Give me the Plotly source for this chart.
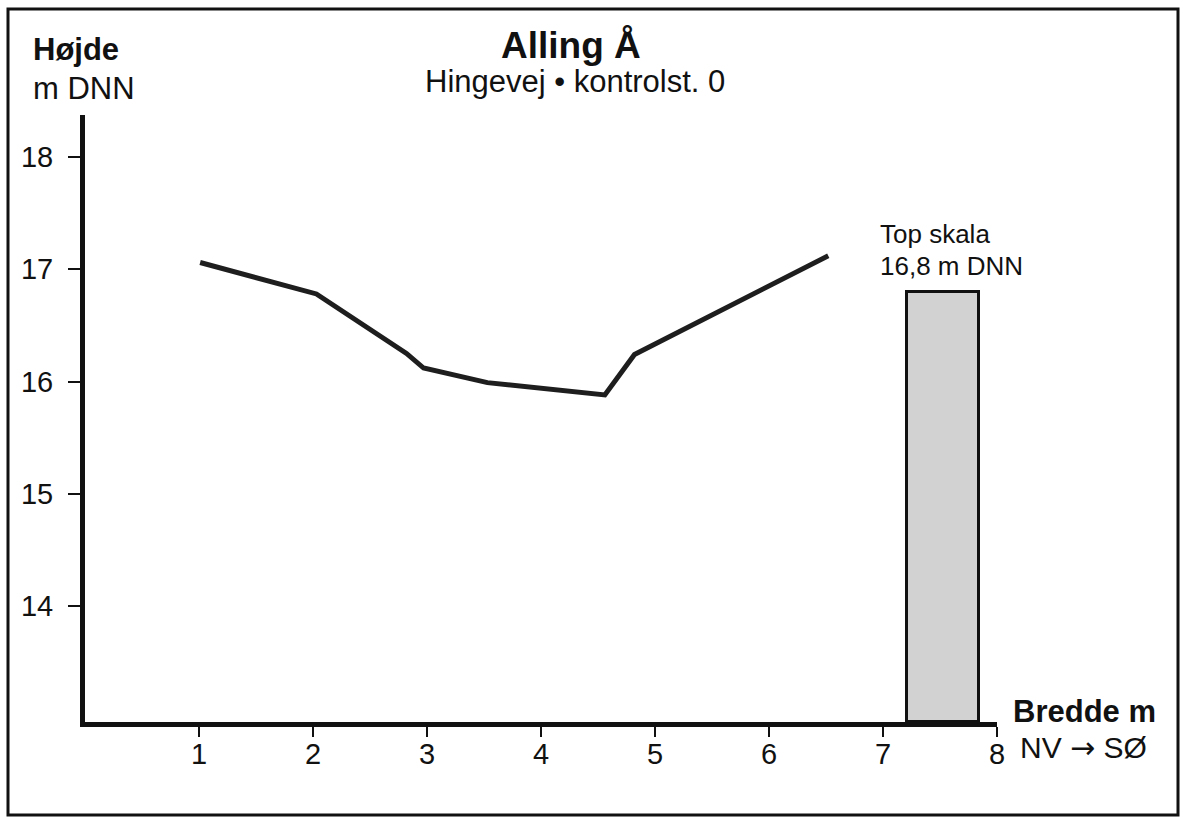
import plotly.graph_objects as go

# ---- data ----
bredde = [1.01, 2.03, 2.82, 2.97, 3.53, 4.56, 4.82, 6.52]
hojde = [17.06, 16.78, 16.25, 16.12, 15.99, 15.88, 16.24, 17.12]
skala_x = [7.525]
skala_top = [16.8]
skala_width = [0.63]
x_ticks = [1, 2, 3, 4, 5, 6, 7, 8]
y_ticks = [14, 15, 16, 17, 18]
X_RANGE = [0, 8]
Y_RANGE = [12.967, 18.374]

W, H = 1186, 818
ML, MR, MT, MB = 85, 189, 115, 96
PW, PH = W - ML - MR, H - MT - MB
FONT = "Liberation Sans"


def px(x):
    return (x - ML) / PW


def py(y):
    return 1 - (y - MT) / PH


fig = go.Figure()
fig.add_trace(go.Bar(
    x=skala_x,
    y=[t - Y_RANGE[0] for t in skala_top],
    base=[Y_RANGE[0]] * len(skala_x),
    width=skala_width,
    marker=dict(color="#d2d2d2", line=dict(color="#111111", width=3)),
    showlegend=False,
    hoverinfo="skip",
))
fig.add_trace(go.Scatter(
    x=bredde, y=hojde, mode="lines",
    line=dict(color="#1e1e1e", width=5),
    showlegend=False,
))

ann = [
    dict(text="<b>Alling Å</b>", x=px(571), y=py(46), size=37, xanchor="center"),
    dict(text="Hingevej • kontrolst. 0", x=px(575), y=py(81), size=31, xanchor="center"),
    dict(text="<b>Højde</b>", x=px(31), y=py(49), size=31, xanchor="left"),
    dict(text="m DNN", x=px(31), y=py(88), size=31, xanchor="left"),
    dict(text="<b>Bredde m</b>", x=px(1011), y=py(711), size=31, xanchor="left"),
    dict(text="NV <span style='font-family:DejaVu Sans'>→</span> SØ", x=px(1018), y=py(747), size=30, xanchor="left"),
    dict(text="Top skala", x=px(878), y=py(234), size=26, xanchor="left"),
    dict(text="16,8 m DNN", x=px(878), y=py(266), size=26, xanchor="left"),
]
for a in ann:
    fig.add_annotation(
        text=a["text"], x=a["x"], y=a["y"], xref="paper", yref="paper",
        xanchor=a["xanchor"], yanchor="middle", showarrow=False,
        font=dict(family=FONT, size=a["size"], color="#111111"),
    )

# outer frame
fig.add_shape(type="rect", xref="paper", yref="paper",
              x0=px(8), x1=px(1178), y0=py(815), y1=py(9),
              line=dict(color="#111111", width=3), fillcolor="rgba(0,0,0,0)",
              layer="above")

fig.update_layout(
    width=W, height=H,
    margin=dict(l=ML, r=MR, t=MT, b=MB, pad=0),
    paper_bgcolor="white", plot_bgcolor="white",
    font=dict(family=FONT, color="#111111"),
    bargap=0,
)
fig.update_xaxes(
    range=X_RANGE, tickvals=x_ticks, ticktext=[str(v) for v in x_ticks],
    showgrid=False, zeroline=False,
    showline=True, linecolor="#111111", linewidth=5,
    ticks="outside", ticklen=10, tickwidth=1.5, tickcolor="#111111",
    ticklabelstandoff=-8,
    tickfont=dict(size=29, family=FONT, color="#111111"),
)
fig.update_yaxes(
    range=Y_RANGE, tickvals=y_ticks, ticktext=[str(v) for v in y_ticks],
    showgrid=False, zeroline=False,
    showline=True, linecolor="#111111", linewidth=5,
    ticks="outside", ticklen=12, tickwidth=1.5, tickcolor="#111111",
    ticklabelstandoff=9,
    tickfont=dict(size=29, family=FONT, color="#111111"),
)

fig.write_html(
    "out.html",
    config={"displayModeBar": False},
    post_script="document.body.style.margin='0px';document.body.style.overflow='hidden';",
)
